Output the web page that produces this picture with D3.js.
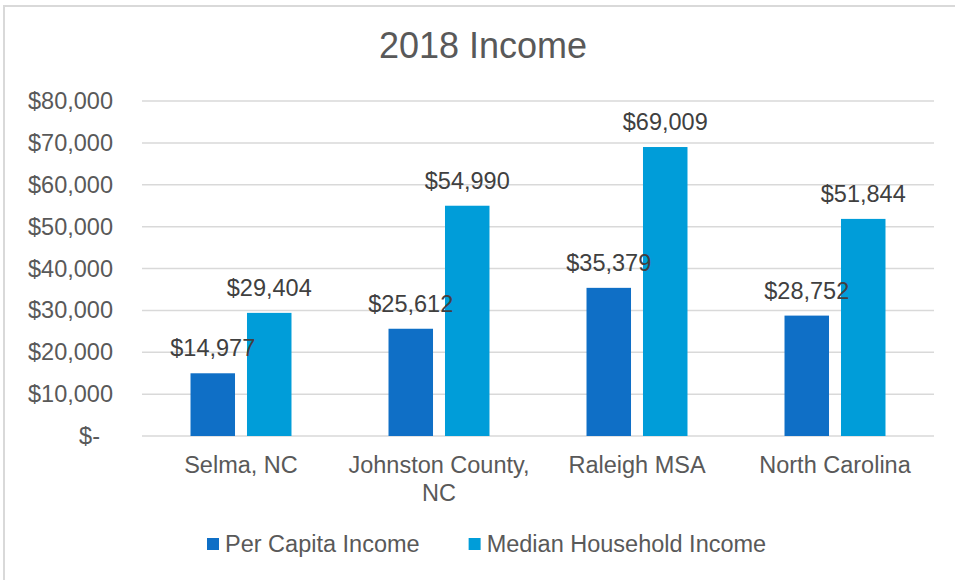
<!DOCTYPE html>
<html>
<head>
<meta charset="utf-8">
<script src="https://cdn.jsdelivr.net/npm/d3@7"></script>
<style>
  html, body { margin: 0; padding: 0; background: #fff; }
  svg { display: block; font-family: "Liberation Sans", Arial, sans-serif; }
</style>
</head>
<body>
<svg id="chart" width="955" height="580"></svg>
<script>
const categories = ['Selma, NC', 'Johnston County, NC', 'Raleigh MSA', 'North Carolina'];
const seriesNames = ['Per Capita Income', 'Median Household Income'];
const perCapita = [14977, 25612, 35379, 28752];
const medianHousehold = [29404, 54990, 69009, 51844];
const yTicks = [0, 10000, 20000, 30000, 40000, 50000, 60000, 70000, 80000];
const colors = ['#0F6FC6', '#009DD9'];

const W = 955, H = 580;
const margin = { top: 101, right: 21, bottom: 144, left: 142 };
const svg = d3.select('#chart');

// chart frame (right / bottom edges fall outside the picture)
svg.append('rect').attr('x', 4).attr('y', 6).attr('width', W + 10).attr('height', H + 10)
  .attr('fill', '#fff').attr('stroke', '#d9d9d9').attr('stroke-width', 2);

const x0 = d3.scaleBand().domain(categories)
  .range([margin.left, W - margin.right]).paddingInner(0.49).paddingOuter(0.245);
const x1 = d3.scaleBand().domain(seriesNames).range([0, x0.bandwidth()]).paddingInner(0.212);
const y = d3.scaleLinear().domain([0, 80000]).range([H - margin.bottom, margin.top]);

// title
svg.append('text').attr('x', 483).attr('y', 58).attr('text-anchor', 'middle')
  .attr('fill', '#595959').style('font-size', '36px').text('2018 Income');

// grid
svg.append('g').selectAll('line').data(yTicks).enter().append('line')
  .attr('x1', margin.left).attr('x2', W - margin.right)
  .attr('y1', d => y(d)).attr('y2', d => y(d))
  .attr('stroke', '#d9d9d9').attr('stroke-width', 1.5);

// y axis labels
const yAxis = svg.append('g').attr('transform', `translate(${margin.left - 29},0)`)
  .call(d3.axisLeft(y).tickValues(yTicks).tickSize(0).tickPadding(0)
    .tickFormat(d => d === 0 ? '$-' : '$' + d3.format(',')(d)));
yAxis.select('.domain').remove();
yAxis.selectAll('text').attr('fill', '#595959').style('font-size', '23.5px')
  .attr('font-family', null)
  .attr('dx', d => d === 0 ? -13 : 0);

// bars
const data = categories.map((c, i) => ({ cat: c, vals: [perCapita[i], medianHousehold[i]] }));
const groups = svg.append('g').selectAll('g').data(data).enter().append('g')
  .attr('transform', d => `translate(${x0(d.cat)},0)`);

groups.selectAll('rect').data(d => d.vals.map((v, j) => ({ s: seriesNames[j], v, j })))
  .enter().append('rect')
  .attr('x', d => x1(d.s)).attr('width', x1.bandwidth())
  .attr('y', d => y(d.v)).attr('height', d => y(0) - y(d.v))
  .attr('fill', d => colors[d.j]);

groups.selectAll('text.lbl').data(d => d.vals.map((v, j) => ({ s: seriesNames[j], v, j })))
  .enter().append('text').attr('class', 'lbl')
  .attr('x', d => x1(d.s) + x1.bandwidth() / 2).attr('y', d => y(d.v) - 17)
  .attr('text-anchor', 'middle').attr('fill', '#404040').style('font-size', '23.5px')
  .text(d => '$' + d3.format(',')(d.v));

// category labels (wrapped)
const catG = svg.append('g');
categories.forEach(c => {
  const t = catG.append('text').attr('x', x0(c) + x0.bandwidth() / 2).attr('y', y(0) + 37)
    .attr('text-anchor', 'middle').attr('fill', '#595959').style('font-size', '23.5px');
  const words = c.split(' ');
  let line = [], lineNo = 0;
  let ts = t.append('tspan').attr('x', x0(c) + x0.bandwidth() / 2).attr('dy', 0);
  words.forEach(w => {
    line.push(w);
    ts.text(line.join(' '));
    if (ts.node().getComputedTextLength() > x0.step() - 10 && line.length > 1) {
      line.pop();
      ts.text(line.join(' '));
      line = [w];
      lineNo++;
      ts = t.append('tspan').attr('x', x0(c) + x0.bandwidth() / 2).attr('dy', 28).text(w);
    }
  });
});

// legend
const legend = svg.append('g').attr('transform', 'translate(207,538)');
let lx = 0;
seriesNames.forEach((s, i) => {
  const g = legend.append('g').attr('transform', `translate(${lx},0)`);
  g.append('rect').attr('width', 12).attr('height', 12).attr('fill', colors[i]);
  const t = g.append('text').attr('x', 18).attr('y', 14).attr('fill', '#595959')
    .style('font-size', '23.5px').text(s);
  lx += 18 + t.node().getComputedTextLength() + 49;
});
</script>
</body>
</html>
